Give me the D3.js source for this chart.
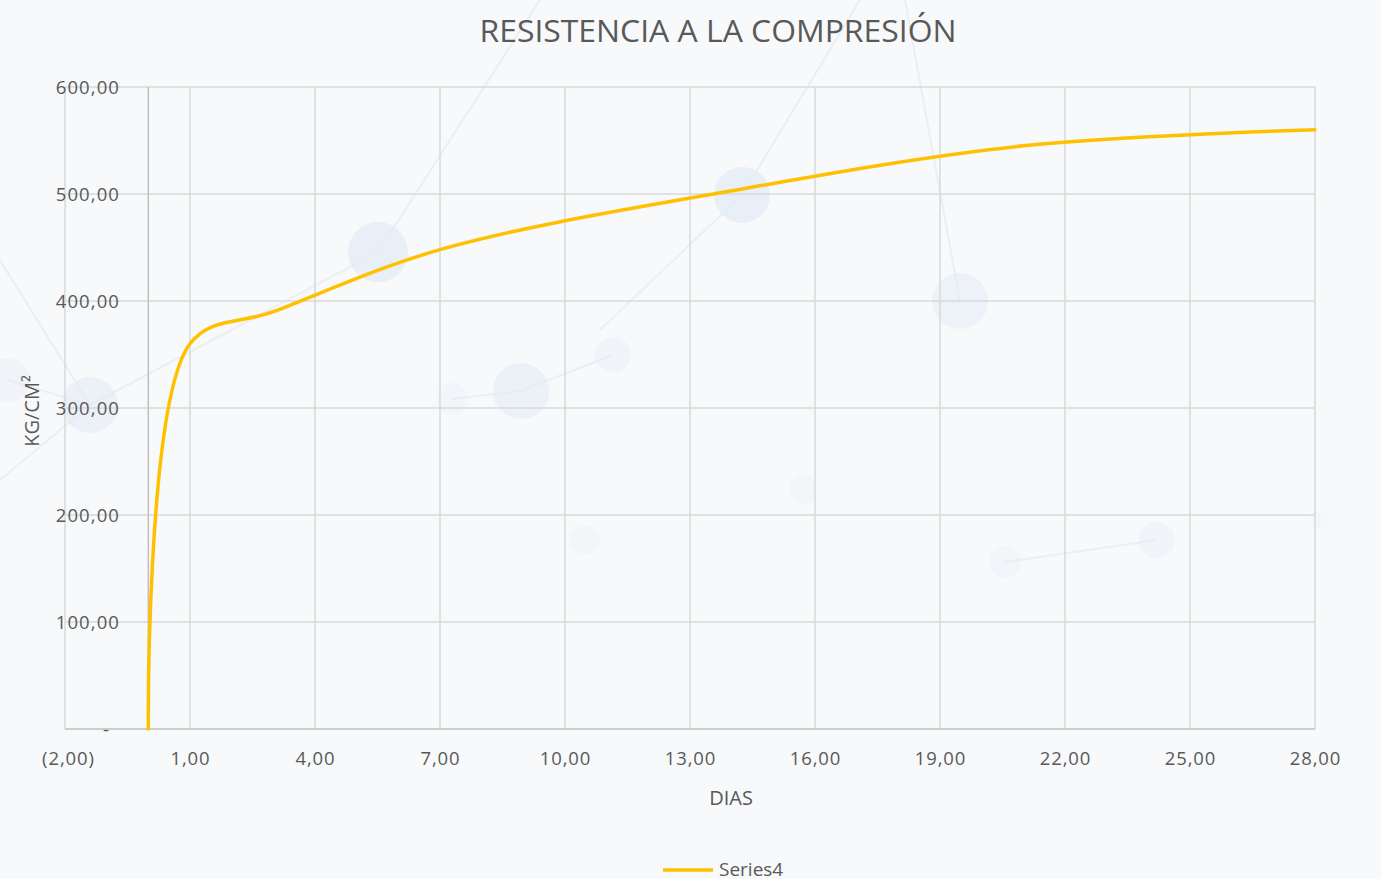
<!DOCTYPE html>
<html>
<head>
<meta charset="utf-8">
<script src="https://cdn.jsdelivr.net/npm/d3@7"></script>
<style>
  html, body { margin: 0; padding: 0; background: #f8f9fb; }
  svg { display: block; }
  text { font-family: "Open Sans", "Noto Sans", sans-serif; fill: #595959; }
</style>
</head>
<body>
<svg id="chart" width="1381" height="879"></svg>
<script>
// ---- data ----
const days = [0, 1, 3, 7, 14, 21, 28];
const strength = [0, 360, 390, 448, 503, 545, 560];
const xTicks = [-2, 1, 4, 7, 10, 13, 16, 19, 22, 25, 28];
const yTicks = [0, 100, 200, 300, 400, 500, 600];
const title = "RESISTENCIA A LA COMPRESIÓN";
const xTitle = "DIAS";
const yTitle = "KG/CM²";
const seriesName = "Series4";

// decorative background network (purely visual): [x, y, r, opacity]
const bgNodes = [[378,252,30,0.75],[742,195,28,0.75],[521,391,28,0.6],[960,301,28,0.55],[90,405,28,0.6],[1157,540,18,0.35],[613,355,18,0.35],[1005,562,16,0.3],[452,399,16,0.3],[585,540,15,0.25],[8,380,22,0.4],[803,490,14,0.25],[1320,520,10,0.2]];
const bgLinks = [[0,4],[2,6],[2,8],[5,7],[4,10]];

const svg = d3.select("#chart");
const W = 1381, H = 879;

// background
svg.append("rect").attr("width",W).attr("height",H).attr("fill","#f8f9fb");
const deco = svg.append("g");
deco.selectAll("line").data(bgLinks).join("line")
  .attr("x1",d=>bgNodes[d[0]][0]).attr("y1",d=>bgNodes[d[0]][1])
  .attr("x2",d=>bgNodes[d[1]][0]).attr("y2",d=>bgNodes[d[1]][1])
  .attr("stroke","#e4e8ee").attr("stroke-width",2).attr("opacity",0.6);
const extraLines = [[540,0,378,252],[0,480,90,405],[905,0,960,301],[742,195,860,0],[742,195,600,330],[0,260,90,405]];
deco.selectAll("line.x").data(extraLines).join("line")
  .attr("x1",d=>d[0]).attr("y1",d=>d[1]).attr("x2",d=>d[2]).attr("y2",d=>d[3])
  .attr("stroke","#e4e8ee").attr("stroke-width",2).attr("opacity",0.6);
deco.selectAll("circle").data(bgNodes).join("circle")
  .attr("cx",d=>d[0]).attr("cy",d=>d[1]).attr("r",d=>d[2])
  .attr("fill","#e4ebf5").attr("opacity",d=>d[3]);

// scales
const x = d3.scaleLinear().domain([-2, 28]).range([65, 1315]);
const y = d3.scaleLinear().domain([0, 600]).range([729, 87]);

const fmt = v => {
  if (v === 0) return "-";
  const s = Math.abs(v).toFixed(2).replace(".", ",");
  return v < 0 ? "(" + s + ")" : s;
};

// gridlines
const grid = svg.append("g");
grid.selectAll("line.h").data(yTicks.filter(d => d > 0)).join("line")
  .attr("x1", x(-2)).attr("x2", x(28))
  .attr("y1", d => y(d)).attr("y2", d => y(d))
  .attr("stroke", "#d9d9d9").attr("stroke-width", 1.5);
grid.selectAll("line.v").data(xTicks).join("line")
  .attr("x1", d => x(d)).attr("x2", d => x(d))
  .attr("y1", y(0)).attr("y2", y(600))
  .attr("stroke", "#d9d9d9").attr("stroke-width", 1.5);

// axes lines
svg.append("line").attr("x1", x(-2)).attr("x2", x(28)).attr("y1", y(0)).attr("y2", y(0))
  .attr("stroke", "#bfbfbf").attr("stroke-width", 1.5);
svg.append("line").attr("x1", x(0)).attr("x2", x(0)).attr("y1", y(0)).attr("y2", y(600))
  .attr("stroke", "#bfbfbf").attr("stroke-width", 1.5);

// y tick labels
const yAxis = d3.axisLeft(y).tickValues(yTicks).tickFormat(fmt).tickSize(0).tickPadding(0);
const gy = svg.append("g").attr("transform", "translate(120,0)").call(yAxis);
gy.select(".domain").remove();
gy.selectAll("text").attr("font-size", "18.5px").attr("letter-spacing", "1.1px")
  .attr("fill", "#595959").attr("font-family", '"Open Sans", sans-serif')
  .attr("dy", "0.34em")
  .attr("x", d => d === 0 ? -10 : 0);

// x tick labels
const xAxis = d3.axisBottom(x).tickValues(xTicks).tickFormat(fmt).tickSize(0).tickPadding(0);
const gx = svg.append("g").attr("transform", "translate(0,752)").call(xAxis);
gx.select(".domain").remove();
gx.selectAll("text").attr("font-size", "18.5px").attr("letter-spacing", "0.9px")
  .attr("fill", "#595959").attr("font-family", '"Open Sans", sans-serif')
  .attr("dy", "0.71em")
  .attr("x", d => d === -2 ? 3 : 0);

// line
const line = d3.line()
  .x((d, i) => x(days[i]))
  .y((d, i) => y(strength[i]))
  .curve(d3.curveCatmullRom.alpha(0.5));
svg.append("path").datum(strength).attr("d", line)
  .attr("fill", "none").attr("stroke", "#FFC000").attr("stroke-width", 3.5)
  .attr("stroke-linecap", "round").attr("stroke-linejoin", "round");

// title
svg.append("text").attr("x", 718).attr("y", 42).attr("text-anchor", "middle")
  .attr("font-size", "31px").attr("textLength", 477).attr("lengthAdjust", "spacingAndGlyphs")
  .text(title);

// axis titles
svg.append("text").attr("x", 731).attr("y", 805).attr("text-anchor", "middle")
  .attr("font-size", "20px").text(xTitle);
svg.append("text").attr("transform", "translate(39,411) rotate(-90)").attr("text-anchor", "middle")
  .attr("font-size", "20px").text(yTitle);

// legend
svg.append("line").attr("x1", 663).attr("x2", 713).attr("y1", 870).attr("y2", 870)
  .attr("stroke", "#FFC000").attr("stroke-width", 3.5);
svg.append("text").attr("x", 719).attr("y", 876).attr("font-size", "19px").text(seriesName);
</script>
</body>
</html>
